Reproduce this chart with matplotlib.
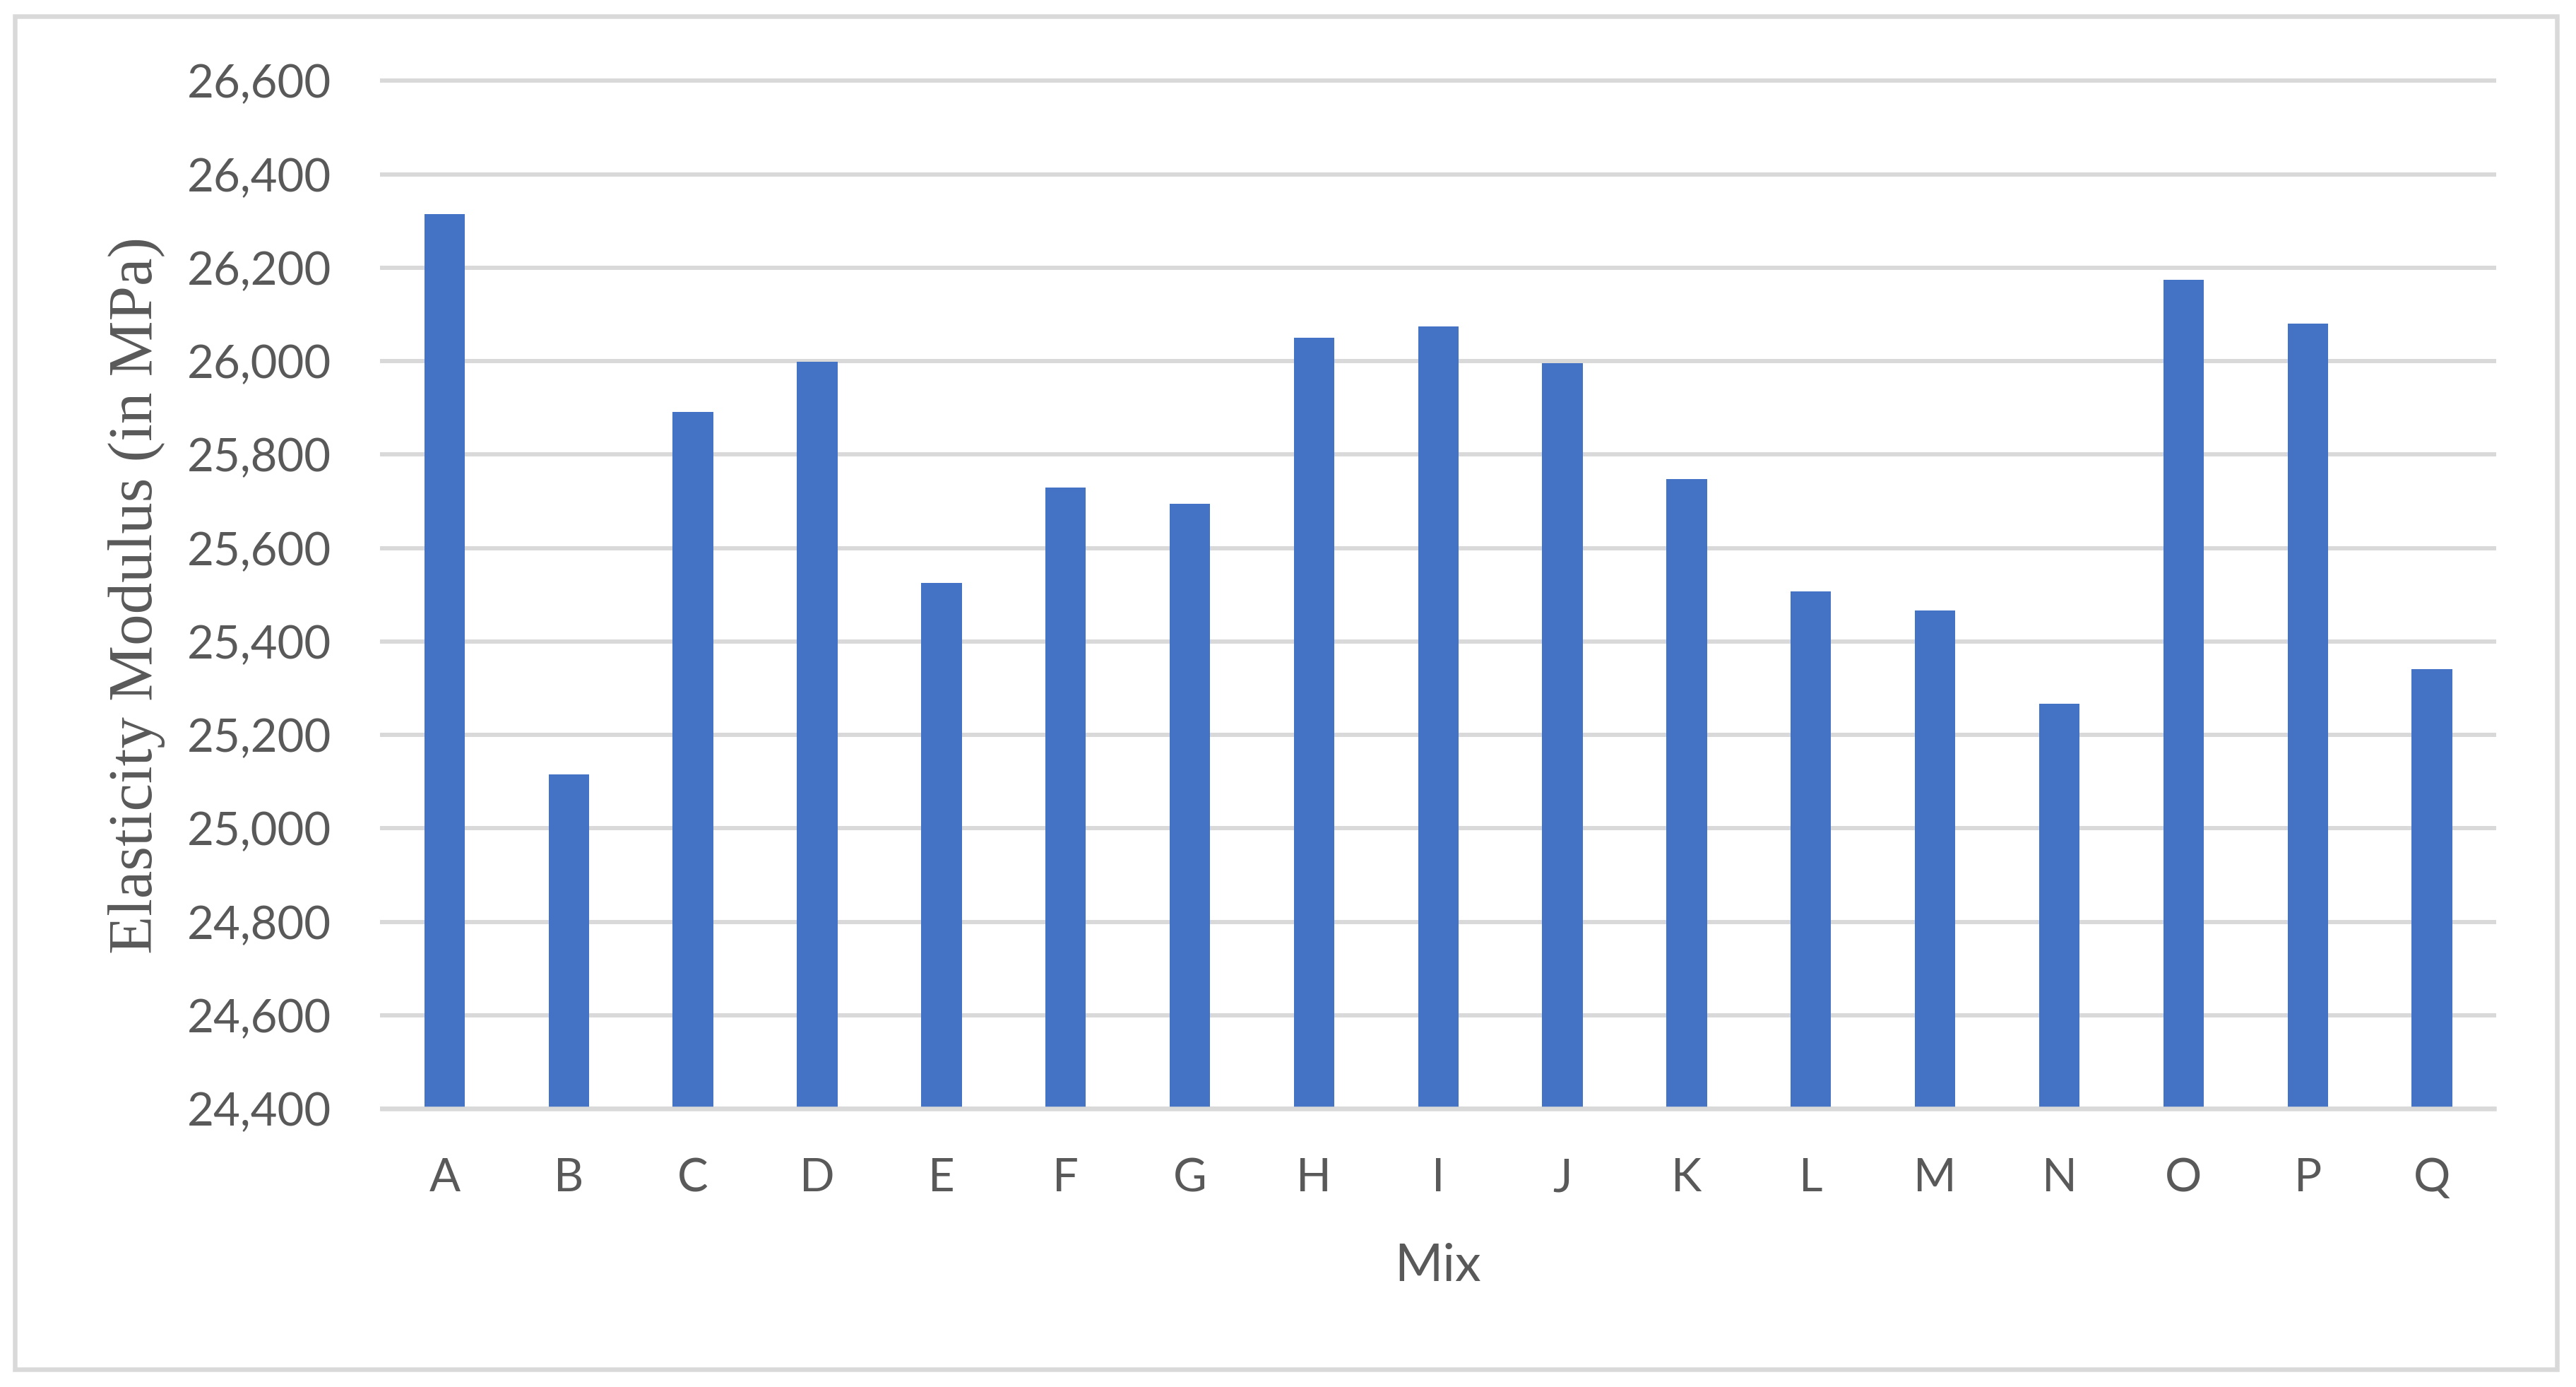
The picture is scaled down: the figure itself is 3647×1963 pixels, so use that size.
import matplotlib
matplotlib.use("Agg")
import matplotlib.pyplot as plt
from matplotlib.patches import Rectangle
from matplotlib.ticker import FuncFormatter

categories = ["A", "B", "C", "D", "E", "F", "G", "H", "I", "J", "K", "L", "M", "N", "O", "P", "Q"]
values = [26315, 25115, 25891, 25999, 25525, 25729, 25694, 26050, 26074, 25996,
          25748, 25507, 25467, 25267, 26174, 26080, 25341]
y_ticks = [24400, 24600, 24800, 25000, 25200, 25400, 25600, 25800, 26000, 26200, 26400, 26600]

W, H = 3648, 1963
DPI = 100
fig = plt.figure(figsize=(W / DPI, H / DPI), dpi=DPI)
fig.patch.set_facecolor("white")

px = 72.0 / DPI  # points per pixel
grey_txt = "#595959"
grid_c = "#D9D9D9"

left, right = 541.5 / W, 3531 / W
bottom, top = 1 - 1569.3 / H, 1 - 114.3 / H
ax = fig.add_axes([left, bottom, right - left, top - bottom])

x = list(range(len(categories)))
ax.bar(x, values, width=0.326, color="#4472C4", zorder=2)

ax.set_xlim(-0.5, len(categories) - 0.5)
ax.set_ylim(y_ticks[0], y_ticks[-1])
ax.set_yticks(y_ticks)
ax.set_xticks(x)
ax.set_xticklabels(categories)
ax.yaxis.set_major_formatter(FuncFormatter(lambda v, p: f"{int(v):,}"))

for s in ["top", "left", "right"]:
    ax.spines[s].set_visible(False)
ax.spines["bottom"].set_color(grid_c)
ax.spines["bottom"].set_linewidth(6.5 * px)
ax.spines["bottom"].set_zorder(3)

ax.set_axisbelow(True)
ax.yaxis.grid(True, color=grid_c, linewidth=6.0 * px)
ax.xaxis.grid(False)
for t in ax.yaxis.get_major_ticks():
    t.gridline.set_clip_on(False)

ax.tick_params(axis="both", length=0, colors=grey_txt)
ax.tick_params(axis="y", pad=72 * px, labelsize=47)
ax.tick_params(axis="x", pad=69 * px, labelsize=47)
for lab in ax.get_xticklabels() + ax.get_yticklabels():
    lab.set_fontfamily("Lato")
    lab.set_color(grey_txt)

fig.text(194 / W, 1 - 842 / H, "Elasticity Modulus (in MPa)", rotation=90,
         ha="center", va="center", fontsize=64, color=grey_txt,
         family="Liberation Serif")
fig.text(2036 / W, 1 - 1813 / H, "Mix", ha="center", va="baseline",
         fontsize=53, color=grey_txt, family="Lato")

frame = Rectangle((21.5 / W, 1 - 1938 / H), (3620 - 21.5) / W, (1938 - 22.5) / H,
                  transform=fig.transFigure, fill=False, edgecolor=grid_c,
                  linewidth=6.5 * px)
fig.patches.append(frame)

fig.savefig("out.png", dpi=DPI, facecolor="white")
